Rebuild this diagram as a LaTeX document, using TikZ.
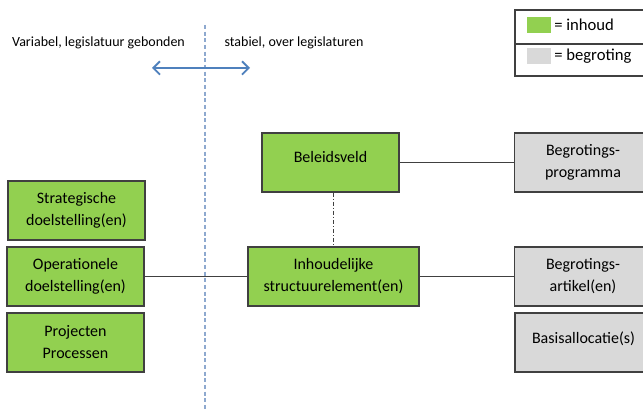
\documentclass[tikz,border=0pt]{standalone}
\usepackage{fontspec}
\setmainfont{Carlito}
\usetikzlibrary{arrows.meta}
\definecolor{inhoud}{HTML}{92D050}
\definecolor{begroting}{HTML}{D9D9D9}
\definecolor{lijn}{HTML}{404040}
\definecolor{pijl}{HTML}{4F81BD}
\definecolor{grens}{HTML}{8EA9CF}
\tikzset{
	box/.style={draw=lijn,line width=0.9pt,align=center,minimum width=102.75pt,minimum height=44.25pt,
		inner sep=0pt,font=\fontsize{12}{16.5}\selectfont},
	inh/.style={box,fill=inhoud},
	beg/.style={box,fill=begroting},
	verband/.style={draw=lijn,line width=0.8pt}
}
\begin{document}
\begin{tikzpicture}[x=0.75pt,y=-0.75pt]
	\clip (0,0) rectangle (643,409);
	\fill[white] (0,0) rectangle (643,409);
	% scheiding en pijl
	\path (205,25) coordinate (T) (205,409) coordinate (B)
		(152,68) coordinate (L) (250,68) coordinate (R);
	\draw[grens,line width=1pt,dash pattern=on 3pt off 2pt] (T)--(B);
	\draw[pijl,line width=1.4pt,{Straight Barb[length=5pt,width=10pt]}-{Straight Barb[length=5pt,width=10pt]}] (L)--(R);
	\node[font=\fontsize{10.5}{13}\selectfont] (var) at (98.5,43) {Variabel, legislatuur gebonden};
	\node[font=\fontsize{10.5}{13}\selectfont] (stab) at (294,43) {stabiel, over legislaturen};
	% legenda
	\node[draw=lijn,line width=0.9pt,minimum width=108.75pt,minimum height=25.5pt,inner sep=0pt] (leg1) at (587.5,27) {};
	\node[draw=lijn,line width=0.9pt,minimum width=108.75pt,minimum height=24pt,inner sep=0pt] (leg2) at (587.5,60) {};
	\foreach \n/\c/\y/\t in {g/inhoud/25/= inhoud,b/begroting/56.5/= begroting}{
		\node[fill=\c,minimum width=18pt,minimum height=12pt,inner sep=0pt] (sw\n) at (539,\y) {};
		\node[anchor=west,inner sep=0pt,font=\fontsize{12.5}{14}\selectfont] (tx\n) at (554,\y) {\t};
	}
	% inhoud
	\node[inh] (strat) at (76.5,210.5) {Strategische\\doelstelling(en)};
	\node[inh] (oper) at (75.5,276.5) {Operationele\\doelstelling(en)};
	\node[inh] (proj) at (75.5,342.5) {Projecten\\Processen};
	\node[inh] (beleid) at (330.5,162.5) {\raisebox{8pt}{Beleidsveld}};
	\node[inh,minimum width=128.25pt] (struct) at (333.5,276.5) {Inhoudelijke\\structuurelement(en)};
	% begroting
	\node[beg] (prog) at (583,162.5) {Begrotings-\\programma};
	\node[beg] (art) at (583,276.5) {Begrotings-\\artikel(en)};
	\node[beg] (basis) at (583.5,342.5) {\raisebox{8pt}{Basisallocatie(s)}};
	% verbanden
	\draw[verband] (oper)--(struct) (beleid)--(prog) (struct)--(art);
	\draw[verband,line width=0.6pt,dash pattern=on 3pt off 1.5pt on 0.8pt off 1.5pt] (beleid.south-|333,0)--(struct.north-|333,0);
\end{tikzpicture}
\end{document}
